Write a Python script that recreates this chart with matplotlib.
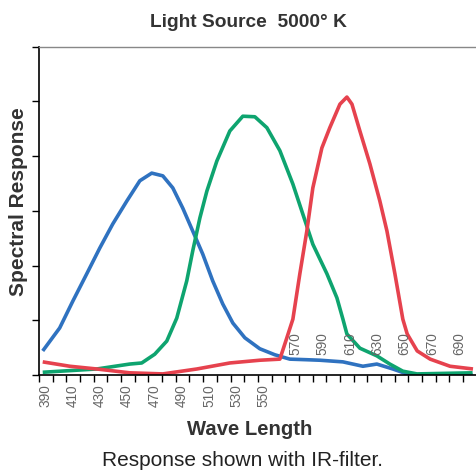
import matplotlib
matplotlib.use("Agg")
import matplotlib.pyplot as plt
import matplotlib.transforms as mtransforms

plt.rcParams['font.family'] = ['Liberation Sans', 'DejaVu Sans']

# Spectral response (wavelength nm, relative response)
blue_nm = [392.7, 405.1, 414.7, 424.9, 434.4, 443.9, 454.2, 463.7, 472.4, 480.5,
           487.8, 495.1, 502.4, 509.7, 517.0, 524.3, 531.7, 540.5, 551.4, 562.4,
           573.4, 585.0, 595.4, 612.2, 626.8, 637.0, 648.7, 659.0, 668.5, 707.0]
blue_val = [0.44, 0.86, 1.35, 1.85, 2.32, 2.76, 3.18, 3.55, 3.69, 3.64,
            3.42, 3.05, 2.63, 2.21, 1.72, 1.30, 0.95, 0.68, 0.48, 0.37,
            0.29, 0.28, 0.27, 0.24, 0.16, 0.20, 0.11, 0.02, 0.00, 0.00]

green_nm = [392.7, 432.2, 456.3, 465.1, 474.6, 483.4, 490.7, 498.0, 502.4, 507.6,
            512.7, 520.0, 529.5, 539.0, 547.8, 556.6, 566.1, 575.6, 582.9, 590.2,
            600.5, 607.8, 612.2, 615.1, 624.6, 637.0, 646.5, 656.0, 666.3, 707.0]
green_val = [0.05, 0.11, 0.20, 0.22, 0.38, 0.62, 1.04, 1.72, 2.27, 2.87,
             3.36, 3.91, 4.46, 4.73, 4.72, 4.52, 4.10, 3.49, 2.94, 2.39,
             1.85, 1.41, 1.02, 0.75, 0.49, 0.35, 0.20, 0.07, 0.02, 0.04]

red_nm = [392.7, 412.5, 432.2, 456.3, 480.5, 505.4, 529.5, 551.4, 566.1, 571.2,
          575.6, 580.7, 585.8, 590.2, 596.8, 602.6, 610.0, 615.1, 618.8, 624.6,
          631.9, 639.2, 644.4, 650.2, 656.0, 659.2, 666.5, 676.0, 690.5, 707.3]
red_val = [0.24, 0.16, 0.11, 0.04, 0.02, 0.11, 0.22, 0.27, 0.29, 0.68,
           1.02, 1.85, 2.63, 3.42, 4.15, 4.52, 4.95, 5.08, 4.95, 4.46,
           3.86, 3.18, 2.63, 1.85, 1.02, 0.75, 0.44, 0.29, 0.16, 0.11]

tick_nm = list(range(390, 701, 10))
low_labels = list(range(390, 551, 20))
high_labels = list(range(570, 691, 20))

fig = plt.figure(figsize=(4.76, 4.72), dpi=100)
ax = fig.add_axes([0.082, 0.2055, 0.918, 0.6955])

ax.plot(blue_nm, blue_val, color="#2f72c0", lw=2.6, solid_capstyle="butt")
ax.plot(green_nm, green_val, color="#0ea46f", lw=2.6, solid_capstyle="butt")
ax.plot(red_nm, red_val, color="#e6424e", lw=2.6, solid_capstyle="butt")

ax.set_xlim(390, 709.5)
ax.set_ylim(0, 6)

ax.spines["right"].set_visible(False)
ax.spines["top"].set_color("#888888")
ax.spines["top"].set_linewidth(1.0)
ax.spines["left"].set_linewidth(1.2)
ax.spines["bottom"].set_linewidth(1.2)

ax.set_yticks(range(0, 7))
ax.set_yticklabels([])
ax.set_xticks(tick_nm)
ax.set_xticklabels([str(v) if v in low_labels else "" for v in tick_nm],
                   rotation=90, color="#666666", fontsize=9.8)
ax.tick_params(axis="both", direction="out", length=5, width=1.0)
ax.tick_params(axis="x", pad=2)

# tick labels sit a little right of their ticks in the reference
offset = mtransforms.ScaledTranslation(6 / 100, 0, fig.dpi_scale_trans)
for lab in ax.get_xticklabels():
    lab.set_transform(lab.get_transform() + offset)

# 570..690 labels are drawn inside the plot, above the axis
trans = mtransforms.blended_transform_factory(ax.transData, ax.transAxes)
trans = trans + mtransforms.ScaledTranslation(10 / 100, 0, fig.dpi_scale_trans)
for v in high_labels:
    ax.text(v, 0.061, str(v), rotation=90, ha="center", va="bottom",
            color="#666666", fontsize=9.8, transform=trans)

fig.text(0.521, 0.952, "Light Source  5000° K", ha="center", va="center",
         fontsize=13.8, fontweight="bold", color="#333333")
fig.text(0.038, 0.572, "Spectral Response", ha="center", va="center",
         rotation=90, fontsize=15, fontweight="bold", color="#333333")
fig.text(0.524, 0.089, "Wave Length", ha="center", va="center",
         fontsize=14.6, fontweight="bold", color="#333333")
fig.text(0.509, 0.025, "Response shown with IR-filter.", ha="center", va="center",
         fontsize=15, color="#222222")

fig.savefig("out.png", dpi=100)
